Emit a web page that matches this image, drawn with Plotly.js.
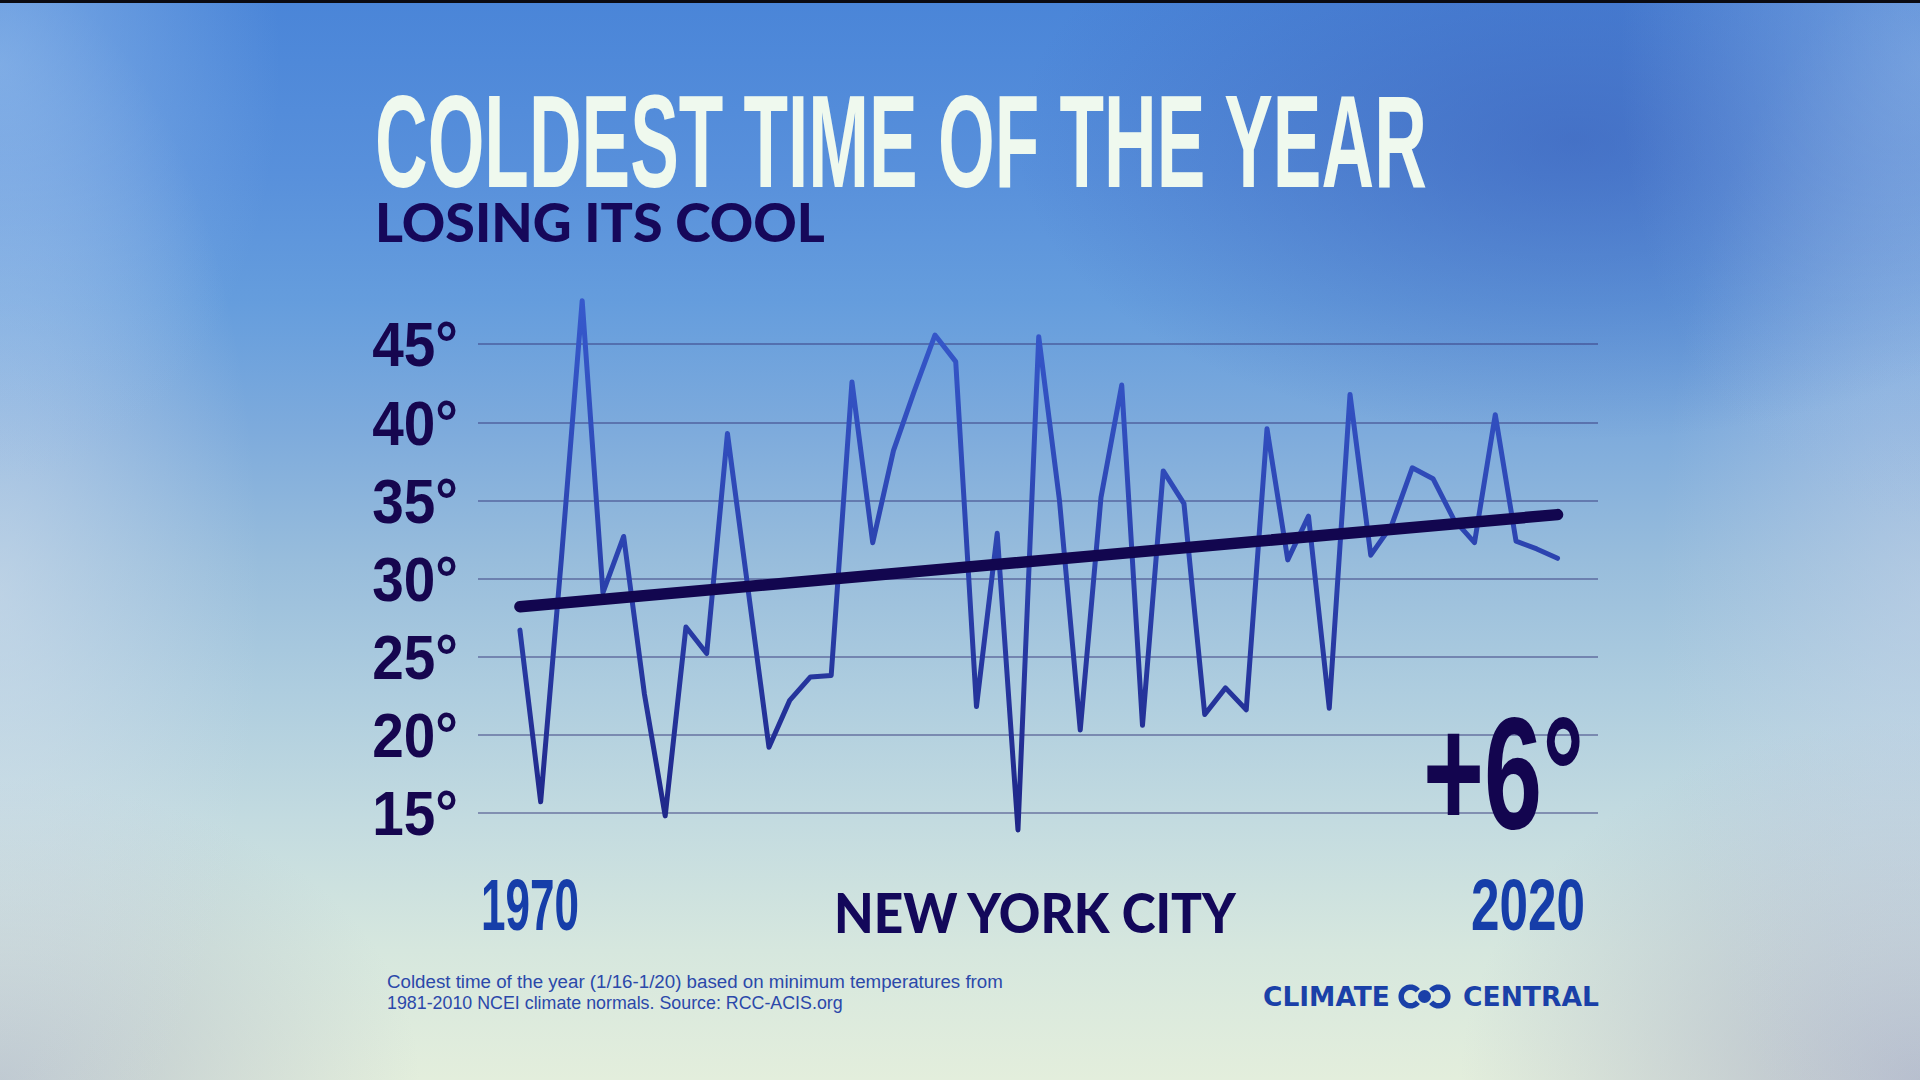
<!DOCTYPE html>
<html>
<head>
<meta charset="utf-8">
<script src="https://cdn.plot.ly/plotly-3.0.1.min.js"></script>
<style>
  html, body { margin: 0; padding: 0; background: #000; }
  #wrap {
    position: relative; width: 1920px; height: 1080px; overflow: hidden;
    background:
      radial-gradient(ellipse 280px 420px at 0% 6%, rgba(150,190,236,0.60), rgba(150,190,236,0) 100%),
      radial-gradient(ellipse 300px 460px at 100% 6%, rgba(150,186,232,0.50), rgba(150,186,232,0) 100%),
      radial-gradient(ellipse 560px 300px at 82% 13%, rgba(55,90,182,0.55), rgba(55,90,182,0) 100%),
      radial-gradient(ellipse 260px 620px at 0% 55%, rgba(214,224,236,0.55), rgba(214,224,236,0) 100%),
      radial-gradient(ellipse 260px 620px at 100% 55%, rgba(200,212,232,0.50), rgba(200,212,232,0) 100%),
      radial-gradient(ellipse 420px 300px at 0% 100%, rgba(176,186,202,0.75), rgba(176,186,202,0) 100%),
      radial-gradient(ellipse 460px 360px at 100% 100%, rgba(166,172,198,0.75), rgba(166,172,198,0) 100%),
      linear-gradient(to bottom, #4a85d8 0%, #5890db 16%, #659ddd 28%, #7eabdc 40%, #98bddc 52%, #aecddf 64%, #c3dbe0 76%, #d6e7de 88%, #e3eedc 100%);
  }
  #chart { position: absolute; left: 0; top: 0; width: 1920px; height: 1080px; }
  #topbar { position: absolute; left: 0; top: 0; width: 1920px; height: 3px; background: #0b0b12; }
</style>
</head>
<body>
<div id="wrap"><div id="chart"></div><div id="topbar"></div></div>
<script>
// ---------------- data ----------------
const years = [1970,1971,1972,1973,1974,1975,1976,1977,1978,1979,
               1980,1981,1982,1983,1984,1985,1986,1987,1988,1989,
               1990,1991,1992,1993,1994,1995,1996,1997,1998,1999,
               2000,2001,2002,2003,2004,2005,2006,2007,2008,2009,
               2010,2011,2012,2013,2014,2015,2016,2017,2018,2019,2020];
const minTemps = [26.7,15.7,31.3,47.8,29.1,32.7,22.6,14.8,26.9,25.2,
                  39.3,29.5,19.2,22.2,23.7,23.8,42.6,32.3,38.2,42.0,
                  45.6,43.9,21.8,32.9,13.9,45.5,35.0,20.3,35.2,42.4,
                  20.6,36.9,34.8,21.3,23.0,21.6,39.6,31.2,34.0,21.7,
                  41.8,31.5,33.4,37.1,36.4,33.8,32.3,40.5,32.4,31.9,31.3];
const trendYears = [1970, 2020];
const trendTemps = [28.2, 34.1];
const yTickVals = [15, 20, 25, 30, 35, 40, 45];
const yTickText = ['15°', '20°', '25°', '30°', '35°', '40°', '45°'];
const titleText = 'COLDEST TIME OF THE YEAR';
const subtitleText = 'LOSING ITS COOL';
const changeText = '+6°';
const startLabel = '1970';
const endLabel = '2020';
const cityText = 'NEW YORK CITY';
const noteLines = ['Coldest time of the year (1/16-1/20) based on minimum temperatures from',
                   '1981-2010 NCEI climate normals. Source: RCC-ACIS.org'];
const logoWords = ['CLIMATE', 'CENTRAL'];

// ---------------- layout helpers ----------------
const W = 1920, H = 1080;
const M = { l: 478, r: 322, t: 282, b: 236 };
const PW = W - M.l - M.r, PH = H - M.t - M.b;
const px = x => (x - M.l) / PW;
const py = y => (H - M.b - y) / PH;

const narrow = 'Liberation Sans Narrow, Arial Narrow, sans-serif';
const heavy = 'Lato, Noto Sans, sans-serif';

// text specs: left edge, target width, cap-centre y (pixels)
const specs = [
  { text: titleText,    left: 374,  width: 1052, cy: 142,   font: { family: narrow, size: 131, weight: 700, color: '#eff9ee' } },
  { text: subtitleText, left: 374,  width: 450,  cy: 221.5, font: { family: heavy,  size: 54,  weight: 900, color: '#16085a' } },
  { text: changeText,   left: 1422, width: 161,  cy: 772.5, font: { family: narrow, size: 160, weight: 700, color: '#13054f' } },
  { text: startLabel,   left: 480,  width: 98,   cy: 905,   font: { family: narrow, size: 72,  weight: 700, color: '#163ea9' } },
  { text: endLabel,     left: 1470, width: 114,  cy: 905,   font: { family: narrow, size: 72,  weight: 700, color: '#163ea9' } },
  { text: cityText,     left: 833,  width: 403,  cy: 911,   font: { family: heavy,  size: 56,  weight: 900, color: '#13085a' } },
  { text: noteLines[0], left: 386,  width: 616,  cy: 981.5, font: { family: narrow, size: 18,  weight: 400, color: '#2b48aa' } },
  { text: noteLines[1], left: 386,  width: 456,  cy: 1002.5,font: { family: narrow, size: 18,  weight: 400, color: '#2b48aa' } },
  { text: logoWords[0], left: 1262, width: 127,  cy: 996.5, font: { family: 'DejaVu Sans, sans-serif', size: 26, weight: 700, color: '#1a40a8' } },
  { text: logoWords[1], left: 1462, width: 136,  cy: 996.5, font: { family: 'DejaVu Sans, sans-serif', size: 26, weight: 700, color: '#1a40a8' } }
];

const annotations = specs.map(s => ({
  xref: 'paper', yref: 'paper', x: px(s.left), y: py(s.cy),
  xanchor: 'left', yanchor: 'middle', showarrow: false, borderpad: 0,
  text: s.text, font: s.font, align: 'left'
}));

// logo mark: two facing "C" arcs and a dot
function arcPath(cx, cy, r, a0, a1, n) {
  let d = '';
  for (let k = 0; k <= n; k++) {
    const a = (a0 + (a1 - a0) * k / n) * Math.PI / 180;
    const x = cx + r * Math.cos(a), y = cy - r * Math.sin(a);
    d += (k ? 'L' : 'M') + px(x).toFixed(5) + ',' + py(y).toFixed(5);
  }
  return d;
}
const logoBlue = '#1a40a8';
const shapes = [
  { type: 'path', xref: 'paper', yref: 'paper', path: arcPath(1410.5, 996.5, 9.3, 38, 322, 40), line: { color: logoBlue, width: 5.5 } },
  { type: 'path', xref: 'paper', yref: 'paper', path: arcPath(1438.5, 996.5, 9.3, -142, 142, 40), line: { color: logoBlue, width: 5.5 } },
  { type: 'circle', xref: 'paper', yref: 'paper', x0: px(1418), x1: px(1431), y0: py(1003), y1: py(990), fillcolor: logoBlue, line: { width: 0 } }
];

const traces = [
  { x: years, y: minTemps, type: 'scatter', mode: 'lines', line: { color: '#2a41ad', width: 5 }, hoverinfo: 'skip' },
  { x: trendYears, y: trendTemps, type: 'scatter', mode: 'lines', line: { color: '#12064f', width: 11.5 }, hoverinfo: 'skip' }
];

const layout = {
  width: W, height: H, autosize: false,
  margin: { l: M.l, r: M.r, t: M.t, b: M.b, pad: 0 },
  paper_bgcolor: 'rgba(0,0,0,0)', plot_bgcolor: 'rgba(0,0,0,0)',
  showlegend: false,
  xaxis: { range: [1967.98, 2021.95], showgrid: false, zeroline: false, showline: false, showticklabels: false, ticks: '' },
  yaxis: {
    range: [13, 49], tickmode: 'array', tickvals: yTickVals, ticktext: yTickText,
    showgrid: true, gridcolor: 'rgba(50,50,120,0.45)', gridwidth: 2,
    zeroline: false, showline: false, ticks: '', ticklabelstandoff: 19,
    tickfont: { family: narrow, size: 63, weight: 700, color: '#16064f' }
  },
  annotations: annotations,
  shapes: shapes
};

const gd = document.getElementById('chart');
Plotly.newPlot(gd, traces, layout, { staticPlot: true, displayModeBar: false }).then(() => {
  const finish = () => {
    // fit condensed display texts to their widths
    specs.forEach((s, i) => {
      const el = gd.querySelector('.annotation[data-index="' + i + '"] text.annotation-text');
      if (!el) return;
      el.style.transform = 'none';
      const w = el.getBBox().width;
      if (!w) return;
      el.style.transformBox = 'fill-box';
      el.style.transformOrigin = '0% 50%';
      el.style.transform = 'scaleX(' + (s.width / w).toFixed(4) + ')';
    });
    // condensed y tick labels, anchored on their right edge (keep Plotly's own transform)
    gd.querySelectorAll('.ytick text').forEach(el => {
      const bb = el.getBBox();
      const xr = bb.x + bb.width;
      const base = el.getAttribute('transform') || '';
      el.setAttribute('transform', base + ' translate(' + xr + ',0) scale(0.9,1) translate(' + (-xr) + ',0)');
    });
    // vertical colour gradient on the temperature line, round joins and caps
    const svg = gd.querySelector('svg.main-svg');
    const defs = svg.querySelector('defs');
    const NS = 'http://www.w3.org/2000/svg';
    const lg = document.createElementNS(NS, 'linearGradient');
    lg.setAttribute('id', 'tempLineGrad');
    lg.setAttribute('x1', '0'); lg.setAttribute('y1', '0');
    lg.setAttribute('x2', '0'); lg.setAttribute('y2', '1');
    [['0', '#3659cc'], ['0.5', '#2b42ae'], ['1', '#1f2688']].forEach(([o, c]) => {
      const st = document.createElementNS(NS, 'stop');
      st.setAttribute('offset', o); st.setAttribute('stop-color', c);
      lg.appendChild(st);
    });
    defs.appendChild(lg);
    const lines = gd.querySelectorAll('.scatterlayer .trace path.js-line');
    if (lines[0]) { lines[0].style.stroke = 'url(#tempLineGrad)'; lines[0].style.strokeLinejoin = 'round'; lines[0].style.strokeLinecap = 'round'; }
    if (lines[1]) { lines[1].style.strokeLinecap = 'round'; }
  };
  if (document.fonts && document.fonts.ready) document.fonts.ready.then(finish); else finish();
});
</script>
</body>
</html>
